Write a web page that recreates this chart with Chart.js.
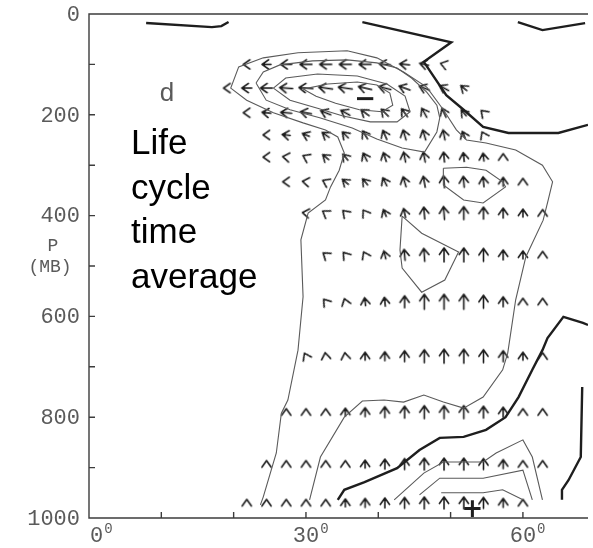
<!DOCTYPE html>
<html>
<head>
<meta charset="utf-8">
<script src="https://cdn.jsdelivr.net/npm/chart.js@4.4.0/dist/chart.umd.min.js"></script>
<style>
  html, body { margin: 0; background: #fff; }
  canvas { display: block; }
</style>
</head>
<body>
<canvas id="section" width="593" height="548"></canvas>
<script>
// grid of the flux vectors: latitude columns and pressure rows (mb)
var lats = [19.09, 21.82, 24.55, 27.27, 30.0, 32.73, 35.45, 38.18, 40.91, 43.64, 46.36, 49.09, 51.82, 54.55, 57.27, 60.0, 62.73];
var levels = [100, 147, 196, 240, 284, 333, 395, 478, 571, 679, 790, 893, 970];

// horizontal (u) and vertical (w) parts of each vector, one row per level
var _ = null;
var uRows = [
  [_, -7, -9, -11, -12, -12, -12, -12, -11, -10, -9, -7, _, _, _, _, _],
  [-7, -10, -12, -13, -14, -14, -14, -13, -12, -11, -10, -9, -6, _, _, _, _],
  [_, -7, -9, -11, -11, -10, -9, -8, -7, -6, -5, -4, -5, -4, _, _, _],
  [_, _, -7, -8, -7, -7, -6, -5, -4, -3, -3, -2, -3, -3, _, _, _],
  [_, _, -7, -7, -6, -6, -5, -4, -3, -2, -2, -1, -1, -1, 0, _, _],
  [_, _, _, -7, -7, -6, -6, -5, -4, -3, -2, -1, -1, -1, 0, 0, _],
  [_, _, _, _, -7, -6, -5, -4, -3, -2, -1, -1, 0, 0, 0, 0, 0],
  [_, _, _, _, _, -5, -4, -3, -2, -1, -1, 0, 0, 0, 0, 0, 0],
  [_, _, _, _, _, -4, -2, -1, -1, 0, 0, 0, 0, 0, 0, 0, 0],
  [_, _, _, _, -3, -1, -1, 0, 0, 0, 0, 0, 0, 0, 0, 0, 0],
  [_, _, _, 0, 0, 0, 0, 0, 0, 0, 0, 0, 0, 0, 0, 0, 0],
  [_, _, 0, 0, 0, 0, 0, 0, 0, 0, 0, 0, 0, 0, 0, 0, 0],
  [_, 0, 0, 0, 0, 0, 0, 0, 0, 0, 0, 0, 0, 0, 0, 0, _]
];
var wRows = [
  [_, 0, 0, 0, 0, 0, 0, 0, 1, 1, 2, 2, _, _, _, _, _],
  [0, 0, 0, 1, 1, 2, 2, 3, 3, 4, 4, 5, 5, _, _, _, _],
  [_, 0, 1, 1, 2, 4, 5, 6, 7, 8, 9, 9, 6, 4, _, _, _],
  [_, _, 0, 1, 3, 5, 6, 8, 9, 10, 10, 10, 7, 6, _, _, _],
  [_, _, 0, 1, 3, 5, 6, 8, 9, 10, 10, 10, 9, 8, 7, _, _],
  [_, _, _, 0, 1, 3, 5, 6, 8, 10, 11, 12, 11, 10, 9, 7, _],
  [_, _, _, _, 1, 4, 5, 6, 7, 9, 12, 13, 13, 12, 10, 8, 7],
  [_, _, _, _, _, 4, 5, 6, 8, 11, 13, 14, 14, 13, 10, 8, 7],
  [_, _, _, _, _, 5, 6, 8, 9, 12, 15, 15, 15, 13, 10, 7, 7],
  [_, _, _, _, 6, 7, 7, 8, 9, 11, 13, 14, 14, 13, 11, 8, 7],
  [_, _, _, 7, 7, 7, 8, 9, 11, 12, 13, 13, 13, 12, 10, 7, 7],
  [_, _, 7, 7, 7, 7, 7, 8, 10, 11, 12, 12, 12, 11, 9, 7, 7],
  [_, 7, 7, 7, 7, 7, 8, 9, 10, 11, 12, 12, 12, 11, 9, 7, _]
];

// thin contours [lat, p]
var tongue = [[23.7,974],[24.1,958],[25.9,871],[26.6,792],[27.5,766],[28.9,667],[29.6,561],[29.3,448],[30.3,395],[32.7,369],[33.4,343],[34.6,310],[35.3,276],[34.4,244],[32.7,230],[29.6,216],[25.5,196],[21.8,171],[19.6,147],[20.7,105],[24.1,87],[28.9,77],[35.7,73],[39.8,87],[43.5,115],[46.7,145],[49.0,190],[50.8,230],[52.2,250],[54.9,256],[59.0,270],[62.7,300],[64.1,333],[63.5,369],[62.8,409],[60.4,482],[59.0,567],[57.9,673],[57.2,706],[54.5,760],[51.8,782],[49.0,770],[46.3,756],[43.5,770],[40.8,766],[37.8,768],[35.3,800],[32.0,879],[30.5,964]];
var jet2 = [[23.1,137],[24.1,115],[26.4,101],[30.9,93],[35.7,91],[39.8,97],[42.6,107],[44.6,127],[46.7,155],[48.1,181],[48.5,206],[48.1,234],[46.4,274],[43.3,266],[39.8,248],[36.4,226],[31.9,206],[27.8,190],[24.5,171],[23.1,137]];
var jet3 = [[25.5,147],[27.2,127],[31.6,119],[37.1,123],[41.2,139],[43.7,163],[44.4,194],[42.6,214],[38.9,214],[35.0,202],[31.6,187],[27.8,171],[25.5,147]];
var jet4 = [[29.6,149],[33.0,139],[37.1,135],[39.8,141],[41.6,157],[42.0,181],[40.5,194],[37.4,190],[34.1,177],[31.4,163],[29.6,149]];
var cellUpper = [[49.0,306],[52.2,304],[54.9,310],[57.2,333],[57.6,343],[54.5,375],[51.8,369],[49.0,339],[49.0,306]];
var cellMiddle = [[43.3,401],[46.0,435],[51.1,472],[49.2,528],[46.0,552],[43.3,504],[43.0,468],[43.3,401]];
var low1 = [[42.2,964],[46.3,911],[49.0,889],[54.5,889],[56.3,871],[60.0,845],[61.3,879],[62.7,964]];
var low2 = [[45.7,954],[48.5,921],[54.5,921],[60.0,905],[61.3,964]];
var low3 = [[48.7,950],[54.5,950],[57.2,944],[60.0,964]];

// thick (zero) contours
var zeroLow = [[34.4,964],[35.3,944],[38.1,929],[42.6,901],[45.7,865],[48.5,841],[51.8,839],[54.9,825],[57.6,800],[59.4,760],[61.3,706],[62.7,667],[63.4,643],[65.6,601],[68.3,613],[69.0,617]];
var zeroRight = [[68.2,740],[68.0,879],[66.3,925],[65.4,944],[65.4,964]];
var zeroTopLeft = [[7.9,18],[17.0,26],[18.3,24],[19.3,16]];
var zeroTop = [[37.8,16],[50.1,56],[46.3,95],[49.4,161],[51.8,190],[54.5,224],[58.0,236],[64.9,236],[69.0,220]];
var zeroTopRight = [[59.3,16],[62.7,32],[68.6,18]];

var thinLines = [tongue, jet2, jet3, jet4, cellUpper, cellMiddle, low1, low2, low3];
var thickLines = [zeroLow, zeroRight, zeroTopLeft, zeroTop, zeroTopRight];

var pressureTicks = [0, 100, 200, 300, 400, 500, 600, 700, 800, 900, 1000];
var pressureLabels = [0, 200, 400, 600, 800, 1000];
var latTicks = [0, 10, 20, 30, 40, 50, 60];
var latLabels = [0, 30, 60];

// arrow glyphs pointing up, rotated per point by Chart.js
var arrowCache = {};
function arrowImage(len) {
  var key = len.toFixed(1);
  if (arrowCache[key]) return arrowCache[key];
  var head = 8, spread = 35 * Math.PI / 180;
  var span = Math.max(len, head * Math.cos(spread));
  var size = Math.ceil(span + 14);
  var c = document.createElement('canvas');
  c.width = size; c.height = size;
  var g = c.getContext('2d');
  var cx = size / 2, tipY = size / 2 - span / 2;
  g.strokeStyle = '#1c1c1c';
  g.lineWidth = 1.6;
  g.lineCap = 'round';
  g.lineJoin = 'round';
  g.beginPath();
  if (len > 7.5) {
    g.moveTo(cx, size / 2 + span / 2);
    g.lineTo(cx, tipY);
  }
  g.moveTo(cx - head * Math.sin(spread), tipY + head * Math.cos(spread));
  g.lineTo(cx, tipY);
  g.lineTo(cx + head * Math.sin(spread), tipY + head * Math.cos(spread));
  g.stroke();
  arrowCache[key] = c;
  return c;
}

var vectors = [];
for (var r = 0; r < levels.length; r++) {
  for (var i = 0; i < lats.length; i++) {
    if (uRows[r][i] === null) continue;
    vectors.push({ x: lats[i], y: levels[r], u: uRows[r][i], w: wRows[r][i] });
  }
}

function toPoints(line) {
  return line.map(function (d) { return { x: d[0], y: d[1] }; });
}

var datasets = [];
thinLines.forEach(function (line) {
  datasets.push({ data: toPoints(line), showLine: true, borderColor: '#5a5a5a', borderWidth: 1.1, pointRadius: 0, tension: 0 });
});
thickLines.forEach(function (line) {
  datasets.push({ data: toPoints(line), showLine: true, borderColor: '#1e1e1e', borderWidth: 2.4, pointRadius: 0, tension: 0 });
});
datasets.push({
  data: vectors,
  showLine: false,
  pointRadius: 3,
  pointStyle: function (c) { var v = c.raw; return arrowImage(Math.hypot(v.u, v.w)); },
  rotation: function (c) { var v = c.raw; return Math.atan2(v.u, v.w) * 180 / Math.PI; }
});

// frame, inward ticks, labels and notes
var frame = {
  id: 'frame',
  afterDraw: function (chart) {
    var ctx = chart.ctx, a = chart.chartArea, x = chart.scales.x, y = chart.scales.y;
    ctx.save();
    ctx.strokeStyle = '#3c3c3c';
    ctx.lineWidth = 1.4;
    ctx.beginPath();
    ctx.moveTo(a.right, a.top);
    ctx.lineTo(a.left, a.top);
    ctx.lineTo(a.left, a.bottom);
    ctx.lineTo(a.right, a.bottom);
    pressureTicks.forEach(function (p) {
      var py = y.getPixelForValue(p);
      ctx.moveTo(a.left, py); ctx.lineTo(a.left + 6, py);
    });
    latTicks.forEach(function (l) {
      var px = x.getPixelForValue(l);
      ctx.moveTo(px, a.bottom); ctx.lineTo(px, a.bottom - 6);
    });
    ctx.stroke();

    ctx.fillStyle = '#5a5a5a';
    ctx.font = '22px "Liberation Mono"';
    ctx.textAlign = 'right';
    ctx.textBaseline = 'middle';
    pressureLabels.forEach(function (p) {
      ctx.fillText(String(p), a.left - 9, y.getPixelForValue(p) + 1);
    });
    ctx.font = '18px "Liberation Mono"';
    ctx.textAlign = 'center';
    ctx.fillText('P', 53, 246);
    ctx.fillText('(MB)', 50, 267);

    ctx.textBaseline = 'alphabetic';
    latLabels.forEach(function (l) {
      var px = x.getPixelForValue(l);
      var txt = String(l);
      ctx.font = '22px "Liberation Mono"';
      var w = ctx.measureText(txt).width;
      var left = l === 0 ? a.left + 1 : px - w / 2;
      ctx.textAlign = 'left';
      ctx.fillText(txt, left, a.bottom + 24);
      ctx.font = '14px "Liberation Mono"';
      ctx.fillText('0', left + w + 1, a.bottom + 15);
    });

    ctx.font = '26px "Liberation Sans"';
    ctx.textAlign = 'center';
    ctx.fillText('d', 167, 101);

    ctx.fillStyle = '#000';
    ctx.font = '35px "Liberation Sans"';
    ctx.textAlign = 'left';
    ['Life', 'cycle', 'time', 'average'].forEach(function (t, k) {
      ctx.fillText(t, 131, 154 + k * 44.5);
    });

    ctx.fillStyle = '#1e1e1e';
    ctx.font = 'bold 26px "DejaVu Sans"';
    ctx.textAlign = 'center';
    ctx.textBaseline = 'middle';
    ctx.fillText('\u2212', x.getPixelForValue(38.2), y.getPixelForValue(171));
    ctx.fillText('+', x.getPixelForValue(53.0), y.getPixelForValue(984));
    ctx.restore();
  }
};

new Chart(document.getElementById('section'), {
  type: 'scatter',
  data: { datasets: datasets },
  options: {
    responsive: false,
    animation: false,
    events: [],
    layout: { padding: { left: 89, top: 14, right: 0, bottom: 30 } },
    plugins: { legend: { display: false }, tooltip: { enabled: false } },
    scales: {
      x: { type: 'linear', display: false, min: 0, max: 69 },
      y: { type: 'linear', display: false, min: 0, max: 1000, reverse: true }
    }
  },
  plugins: [frame]
});
</script>
</body>
</html>
